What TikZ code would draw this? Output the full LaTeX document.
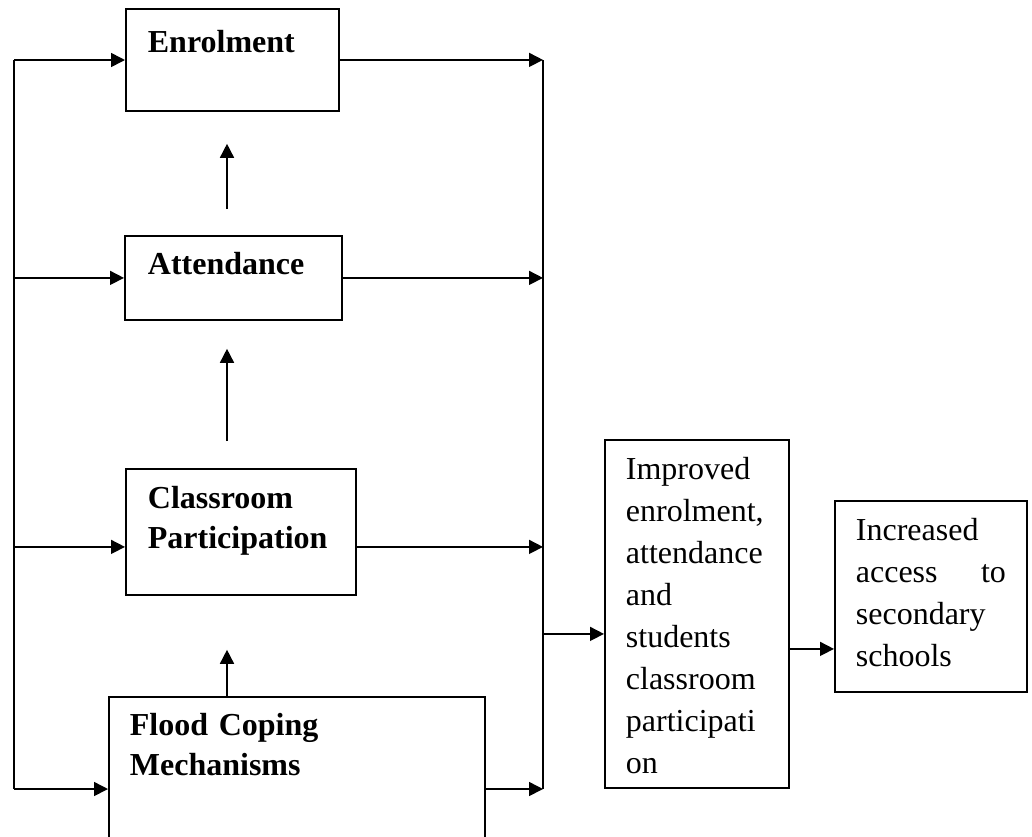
\documentclass[tikz,border=0pt]{standalone}
\usepackage{fontspec}
\setmainfont{Liberation Serif}
\usetikzlibrary{arrows.meta}

\tikzset{
	box/.style={draw, line width=0.9pt, rectangle, anchor=north west, inner ysep=0pt, align=left},
	boldbox/.style={box, font=\fontsize{16}{20}\selectfont\bfseries},
	plainbox/.style={box, font=\fontsize{16}{21}\selectfont},
	link/.style={->, line width=0.8pt},
	trunk/.style={line width=0.8pt},
}

\begin{document}
\begin{tikzpicture}[x=0.5pt, y=-0.5pt, >={Triangle[length=7pt,width=7pt]}]

% frame %{{{2

	\clip (0,0) rectangle (1032,836);

% boxes %{{{2

	\node[boldbox, inner xsep=11pt, text width=84.5pt, text height=22pt, text depth=29pt]
		(enrol) at (125,8) {Enrolment};

	\node[boldbox, inner xsep=11.5pt, text width=85.5pt, text height=19.5pt, text depth=22.5pt]
		(attend) at (124,235) {Attendance};

	\node[boldbox, inner xsep=11pt, text width=93pt, text height=20pt, text depth=43pt]
		(class) at (125,468) {Classroom\\Participation};

	\node[boldbox, inner xsep=10.5pt, text width=167pt, text height=19.5pt, text depth=72pt]
		(flood) at (108,696) {Flood Coping\\Mechanisms};

	\node[plainbox, inner xsep=10.5pt, text width=71pt, text height=20pt, text depth=154pt]
		(improved) at (604,439) {Improved\\enrolment,\\attendance\\and\\students\\classroom\\participati\\on};

	\node[plainbox, inner xsep=10.5pt, text width=75pt, text height=20pt, text depth=75.5pt]
		(increased) at (834,500) {Increased\\access\hfill to\\secondary\\schools};

% coordinates %{{{2

	\coordinate (lt) at (14,60);
	\coordinate (lb) at (14,789);
	\coordinate (rt) at (543,60);
	\coordinate (rb) at (543,789);
	\coordinate (upx) at (227,0);

	\coordinate (cin) at ([yshift=-7.5pt]class.west);
	\coordinate (cout) at ([yshift=-7.5pt]class.east);
	\coordinate (fin) at ([yshift=-46.5pt]flood.north west);
	\coordinate (fout) at ([yshift=-46.5pt]flood.north east);
	\coordinate (iin) at ([yshift=-10pt]improved.west);
	\coordinate (iout) at ([yshift=-17.5pt]improved.east);

% trunks %{{{2

	\draw[trunk] (lt) -- (lb);
	\draw[trunk] (rt) -- (rb);

% left arrows %{{{2

	\draw[link] (lt) -- (enrol.west |- lt);
	\draw[link] (attend.west -| lb) -- (attend.west);
	\draw[link] (cin -| lb) -- (cin);
	\draw[link] (lb) -- (fin);

% right arrows %{{{2

	\draw[link] (enrol.east) -- (enrol.east -| rt);
	\draw[link] (attend.east) -- (attend.east -| rt);
	\draw[link] (cout) -- (cout -| rt);
	\draw[link] (fout) -- (rb);

% upward arrows %{{{2

	\draw[link, shorten <=13pt, shorten >=16pt] (upx |- attend.north) -- (upx |- enrol.south);
	\draw[link, shorten <=13.5pt, shorten >=14pt] (upx |- class.north) -- (upx |- attend.south);
	\draw[link, shorten >=27pt] (upx |- flood.north) -- (upx |- class.south);

% outcome arrows %{{{2

	\draw[link] (iin -| rt) -- (iin);
	\draw[link] (iout) -- (iout -| increased.west);

% closing %{{{2

\end{tikzpicture}
\end{document}
